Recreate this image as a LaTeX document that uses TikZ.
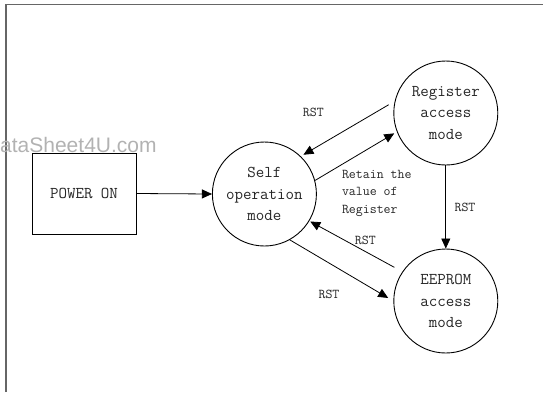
\documentclass[tikz,border=0pt]{standalone}
\usepackage{fontspec}
\newfontfamily\wmfont{Liberation Sans}
\usetikzlibrary{arrows.meta}
\tikzset{
  state/.style={circle,draw,line width=0.9pt,minimum size=104pt,inner sep=0pt,align=center,
    font=\ttfamily\fontsize{16.5}{21.6}\selectfont,text=black!85},
  boxnode/.style={draw,line width=0.9pt,minimum width=104pt,minimum height=81pt,
    font=\ttfamily\fontsize{16.5}{21.6}\selectfont,text=black!85},
  lbl/.style={font=\ttfamily\fontsize{13.5}{17.3}\selectfont,text=black!85,inner sep=0pt},
  arr/.style={line width=0.8pt,-{Triangle[length=10pt,width=9pt]}},
}
\begin{document}
\begin{tikzpicture}[x=1pt,y=-1pt]
\useasboundingbox (0,0) rectangle (543,392);
% frame
\draw[line width=1.4pt,black!60] (6,392) -- (6,4.5) -- (543,4.5);
% watermark
\node[anchor=base west,inner sep=0pt,text=black!30,font=\wmfont\fontsize{21}{24}\selectfont] (wm) at (0,152) {ataSheet4U.com};
% nodes
\node[boxnode] (pwr) at (84,193.5) {POWER ON};
\node[state] (self) at (264.4,194) {Self\\operation\\mode};
\node[state] (reg) at (445.8,113) {Register\\access\\mode};
\node[state] (eep) at (445.8,301) {EEPROM\\access\\mode};
% connectors
\draw[arr] (pwr.east) -- (self.west);
\draw[arr,shorten <=7pt,shorten >=3pt] (reg.167) -- (self.46);
\draw[arr,shorten >=3pt] (self.15) -- (reg.201);
\draw[arr] (reg.south) -- (eep.north);
\draw[arr,shorten <=9pt,shorten >=1pt] (eep.146) -- (self.-31);
\draw[arr,shorten >=6pt] (self.-61) -- (eep.180);
% labels
\node[lbl] (l1) at (313.4,112.5) {RST};
\node[lbl,anchor=west,align=left] (l2) at (341.8,193.2) {Retain the\\value of\\Register};
\node[lbl] (l3) at (465,207) {RST};
\node[lbl] (l4) at (365.3,240) {RST};
\node[lbl] (l5) at (329,294.3) {RST};
\end{tikzpicture}
\end{document}
